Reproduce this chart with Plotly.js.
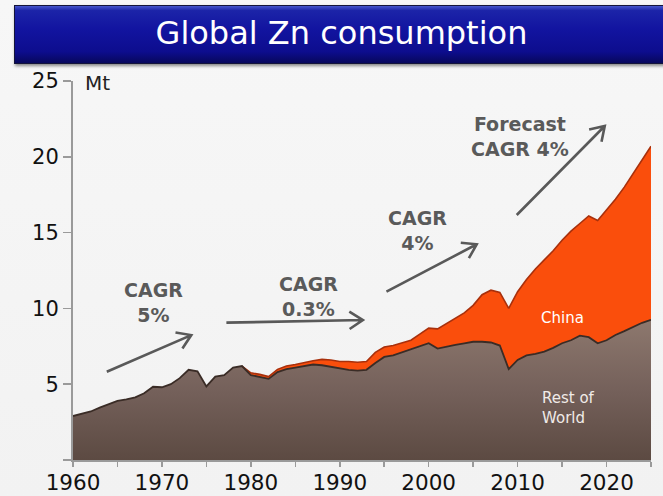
<!DOCTYPE html>
<html>
<head>
<meta charset="utf-8">
<script src="https://cdn.plot.ly/plotly-3.0.1.min.js"></script>
<style>
  html, body { margin:0; padding:0; width:663px; height:496px; overflow:hidden;
    background: linear-gradient(to bottom, #f7f7f7, #f2f2f2); }
  #banner { position:absolute; left:14px; top:5px; width:660px; height:57px;
    background: linear-gradient(to bottom, #4656cc 0%, #1c24a8 8%, #1214a0 40%, #0d0d8e 80%, #07075c 100%);
    border:1px solid #14143a; box-shadow: 1px 2px 3px rgba(0,0,0,0.45); z-index:0; }
  #chart { position:absolute; left:0; top:0; width:663px; height:496px; z-index:1; }
</style>
</head>
<body>
<div id="banner"></div>
<div id="chart"></div>
<script>
// ---- data ----
const years = [1960,1961,1962,1963,1964,1965,1966,1967,1968,1969,
  1970,1971,1972,1973,1974,1975,1976,1977,1978,1979,
  1980,1981,1982,1983,1984,1985,1986,1987,1988,1989,
  1990,1991,1992,1993,1994,1995,1996,1997,1998,1999,
  2000,2001,2002,2003,2004,2005,2006,2007,2008,2009,
  2010,2011,2012,2013,2014,2015,2016,2017,2018,2019,
  2020,2021,2022,2023,2024,2025];
const restOfWorld = [2.9,3.05,3.2,3.45,3.7,3.9,4.0,4.13,4.4,4.83,
  4.8,5.0,5.4,5.95,5.85,4.85,5.5,5.6,6.1,6.2,
  5.6,5.5,5.35,5.8,6.0,6.1,6.2,6.3,6.25,6.15,
  6.0,5.95,5.9,5.95,6.4,6.8,6.9,7.1,7.25,7.5,
  7.7,7.35,7.5,7.6,7.7,7.8,7.8,7.75,7.55,6.0,
  6.6,6.9,7.0,7.15,7.4,7.7,7.9,8.2,8.1,7.7,
  7.9,8.25,8.5,8.8,9.05,9.25];
const china = [0,0,0,0,0,0,0,0,0,0,
  0,0,0,0,0,0,0,0,0,0,
  0.15,0.15,0.15,0.18,0.2,0.2,0.25,0.25,0.39,0.45,
  0.5,0.55,0.55,0.55,0.7,0.65,0.65,0.65,0.65,0.8,
  1.0,1.3,1.5,1.7,2.0,2.4,3.1,3.45,3.5,4.0,
  4.5,5.0,5.6,6.05,6.4,6.8,7.2,7.4,8.0,8.1,
  8.6,8.95,9.5,10.1,10.75,11.45];
const yTickVals = [0,5,10,15,20,25];
const yTickText = ['','5','10','15','20','25'];
const cagrLabels = ['CAGR<br>5%','CAGR<br>0.3%','CAGR<br>4%','Forecast<br>CAGR 4%'];
const cagrLabelPos = [[1969.1,10.39],[1986.45,10.77],[1998.7,15.17],[2010.3,21.33]];
const arrowStart = [[1963.8,5.82],[1977.25,9.06],[1995.25,11.1],[2009.9,16.16]];
const arrowEnd   = [[1973.3,8.24],[1992.6,9.23],[2005.4,14.23],[2019.8,22.03]];
const seriesLabels = ['China','Rest of<br>World'];

// ---- derived ----
const total = restOfWorld.map((v,i)=> +(v + china[i]).toFixed(3));
const chinaStart = china.findIndex(v => v > 0) - 1;

const W = 663, H = 496;
const M = {l:73, r:12, t:81, b:36};
const xRange = [1960, 2025], yRange = [0, 25];
const pxX = (W - M.l - M.r) / (xRange[1]-xRange[0]);
const pxY = (H - M.t - M.b) / (yRange[1]-yRange[0]);

const FONT = 'DejaVu Sans, Verdana, sans-serif';
const txt = '#5a5a5a';

const traces = [
  { x: years, y: restOfWorld, type:'scatter', mode:'lines', fill:'tozeroy',
    line:{width:0, color:'#3a2c26'},
    fillgradient:{type:'vertical', start:0, stop:9,
      colorscale:[[0,'#5c4a42'],[0.5,'#74605a'],[1,'#8c776d']]},
    hoverinfo:'skip', showlegend:false },
  { x: years, y: total, type:'scatter', mode:'lines', fill:'tonexty',
    fillcolor:'#fa4e0c', line:{width:0, color:'#fa4e0c'},
    hoverinfo:'skip', showlegend:false },
  { x: years.slice(chinaStart), y: total.slice(chinaStart), type:'scatter', mode:'lines',
    line:{width:1.6, color:'#a8300c'}, hoverinfo:'skip', showlegend:false },
  { x: years, y: restOfWorld, type:'scatter', mode:'lines',
    line:{width:1.8, color:'#3a2c26'}, hoverinfo:'skip', showlegend:false }
];

// arrows as path shapes (shaft + open V head)
const shapes = [];
const headLen = 16, headAng = 33 * Math.PI/180;
arrowStart.forEach((s,i)=>{
  const e = arrowEnd[i];
  const dxp = (e[0]-s[0])*pxX, dyp = (e[1]-s[1])*pxY;
  const ang = Math.atan2(dyp, dxp);
  const a1 = ang + Math.PI - headAng, a2 = ang + Math.PI + headAng;
  const h1 = [e[0] + headLen*Math.cos(a1)/pxX, e[1] + headLen*Math.sin(a1)/pxY];
  const h2 = [e[0] + headLen*Math.cos(a2)/pxX, e[1] + headLen*Math.sin(a2)/pxY];
  const path = `M${s[0]},${s[1]} L${e[0]},${e[1]} M${h1[0]},${h1[1]} L${e[0]},${e[1]} L${h2[0]},${h2[1]}`;
  shapes.push({type:'path', xref:'x', yref:'y', path, line:{color:'#595959', width:2.6}});
});

const annotations = [];
cagrLabels.forEach((t,i)=>{
  annotations.push({x:cagrLabelPos[i][0], y:cagrLabelPos[i][1], xref:'x', yref:'y',
    text:'<b>'+t+'</b>', showarrow:false, align:'center',
    font:{family:FONT, size:19, color:txt}});
});
annotations.push({x:2015.05, y:9.37, xref:'x', yref:'y', text:seriesLabels[0], showarrow:false,
  font:{family:FONT, size:15, color:'#ffffff'}});
annotations.push({x:2012.55, y:3.43, xref:'x', yref:'y', text:seriesLabels[1], showarrow:false,
  xanchor:'left', align:'left', font:{family:FONT, size:15, color:'#f0ebe8'}});
annotations.push({x:1961.1, y:24.85, xref:'x', yref:'y', text:'Mt', showarrow:false,
  xanchor:'left', font:{family:FONT, size:20, color:'#222'}});

const layout = {
  width: W, height: H,
  margin: M,
  paper_bgcolor:'rgba(0,0,0,0)', plot_bgcolor:'rgba(0,0,0,0)',
  title: {text:'Global Zn consumption', font:{family:FONT, size:32, color:'#ffffff'},
    x: 341.5/W, xref:'container', xanchor:'center', y: 1 - 33/H, yref:'container', yanchor:'middle'},
  xaxis: {range:xRange, showgrid:false, zeroline:false, showline:true, linecolor:'#9a9a9a', linewidth:2,
    ticks:'outside', ticklen:5, tickcolor:'#9a9a9a', tickwidth:1.5, dtick:10, tick0:1960,
    ticklabelstandoff:-3,
    tickfont:{family:FONT, size:21.5, color:'#111'},
    minor:{dtick:5, ticks:'outside', ticklen:5, tickcolor:'#9a9a9a', tickwidth:1.5}},
  yaxis: {range:yRange, showgrid:false, zeroline:false, showline:true, linecolor:'#9a9a9a', linewidth:2,
    ticks:'outside', ticklen:8, tickcolor:'#9a9a9a', tickwidth:1.5,
    tickmode:'array', tickvals:yTickVals, ticktext:yTickText,
    tickfont:{family:FONT, size:21, color:'#111'}},
  shapes, annotations, showlegend:false
};

Plotly.newPlot('chart', traces, layout, {displayModeBar:false, staticPlot:true});
</script>
</body>
</html>
